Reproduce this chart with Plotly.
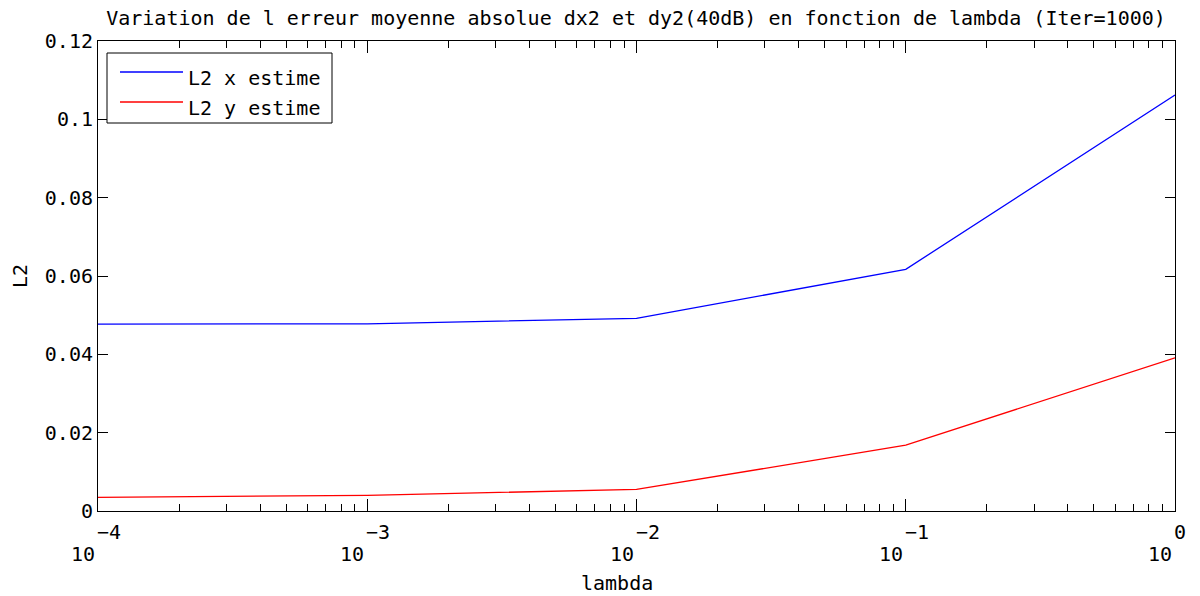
import numpy as np
import plotly.graph_objects as go

# Regularisation parameter and mean absolute errors (40 dB, 1000 iterations)
lambda_vals = [1e-4, 1e-3, 1e-2, 1e-1, 1e0]
l2_x = [0.0477, 0.0478, 0.0492, 0.0617, 0.1062]
l2_y = [0.0035, 0.0040, 0.0055, 0.0168, 0.0391]

series_names = ["L2 x estime", "L2 y estime"]
series_colors = ["#0000ff", "#ff0000"]

x_exponents = [-4, -3, -2, -1, 0]
y_ticks = [0, 0.02, 0.04, 0.06, 0.08, 0.1, 0.12]
y_ticklabels = ["0", "0.02", "0.04", "0.06", "0.08", "0.1", "0.12"]

FONT = "DejaVu Sans Mono"
FS = 20
W, H = 1200, 596
ML, MR, MT, MB = 98, 25, 41, 85
PW, PH = W - ML - MR, H - MT - MB

fig = go.Figure()
for vals, name, col in zip([l2_x, l2_y], series_names, series_colors):
    fig.add_trace(go.Scatter(x=lambda_vals, y=vals, mode="lines", name=name,
                             line=dict(color=col, width=1.3), showlegend=False))

minor_vals = [m * 10.0 ** e for e in x_exponents[:-1] for m in range(2, 10)]

fig.update_xaxes(type="log", range=[x_exponents[0], x_exponents[-1]],
                 showgrid=False, zeroline=False, showline=True, linecolor="black",
                 linewidth=1, mirror="ticks", ticks="inside", ticklen=12,
                 tickcolor="black", tickwidth=1,
                 tickvals=[10.0 ** e for e in x_exponents], showticklabels=False,
                 minor=dict(tickvals=minor_vals, ticks="inside", ticklen=7,
                            tickcolor="black", tickwidth=1, showgrid=False))
fig.update_yaxes(range=[y_ticks[0], y_ticks[-1]], showgrid=False, zeroline=False,
                 showline=True, linecolor="black", linewidth=1, mirror="ticks",
                 ticks="inside", ticklen=10, tickcolor="black", tickwidth=1,
                 tickvals=y_ticks, ticktext=y_ticklabels,
                 tickfont=dict(family=FONT, size=FS, color="black"),
                 ticklabelstandoff=0)

ann = []
# Decade labels drawn as base "10" with raised exponent
for e in x_exponents:
    ann.append(dict(x=e, xref="x", y=0, yref="paper", text="10", showarrow=False,
                    xanchor="right", yanchor="middle", xshift=-1, yshift=-43,
                    font=dict(family=FONT, size=FS, color="black")))
    ann.append(dict(x=e, xref="x", y=0, yref="paper", text=str(e).replace("-", "\u2212"),
                    showarrow=False, xanchor="left", yanchor="middle", xshift=-3,
                    yshift=-21, font=dict(family=FONT, size=FS, color="black")))

ann.append(dict(x=(617 - ML) / PW, xref="paper", y=-(583 - (MT + PH)) / PH, yref="paper",
                text="lambda", showarrow=False, xanchor="center", yanchor="middle",
                font=dict(family=FONT, size=FS, color="black")))
ann.append(dict(x=-(ML - 20) / PW, xref="paper", y=0.5, yref="paper", text="L2",
                textangle=-90, showarrow=False, xanchor="center", yanchor="middle",
                font=dict(family=FONT, size=FS, color="black")))

# Legend box
def px(xp):
    return (xp - ML) / PW

def py(yp):
    return (MT + PH - yp) / PH

shapes = [dict(type="rect", xref="paper", yref="paper", x0=px(107), x1=px(332),
               y0=py(123), y1=py(53), line=dict(color="black", width=1),
               fillcolor="white", layer="above")]
for i, (name, col) in enumerate(zip(series_names, series_colors)):
    ly = 72 + 30 * i
    shapes.append(dict(type="line", xref="paper", yref="paper", x0=px(120), x1=px(183),
                       y0=py(ly), y1=py(ly), line=dict(color=col, width=1.3), layer="above"))
    ann.append(dict(x=px(186), xref="paper", y=py(ly + 6), yref="paper", text=name,
                    showarrow=False, xanchor="left", yanchor="middle",
                    font=dict(family=FONT, size=FS, color="black")))

fig.update_layout(
    width=W, height=H, margin=dict(l=ML, r=MR, t=MT, b=MB),
    paper_bgcolor="white", plot_bgcolor="white",
    title=dict(text="Variation de l erreur moyenne absolue dx2 et dy2(40dB) en fonction de lambda (Iter=1000)",
               x=636 / W, xanchor="center", y=1 - 18 / H, yanchor="middle",
               yref="container", font=dict(family=FONT, size=FS, color="black")),
    annotations=ann, shapes=shapes,
)

fig.write_html("out.html")
